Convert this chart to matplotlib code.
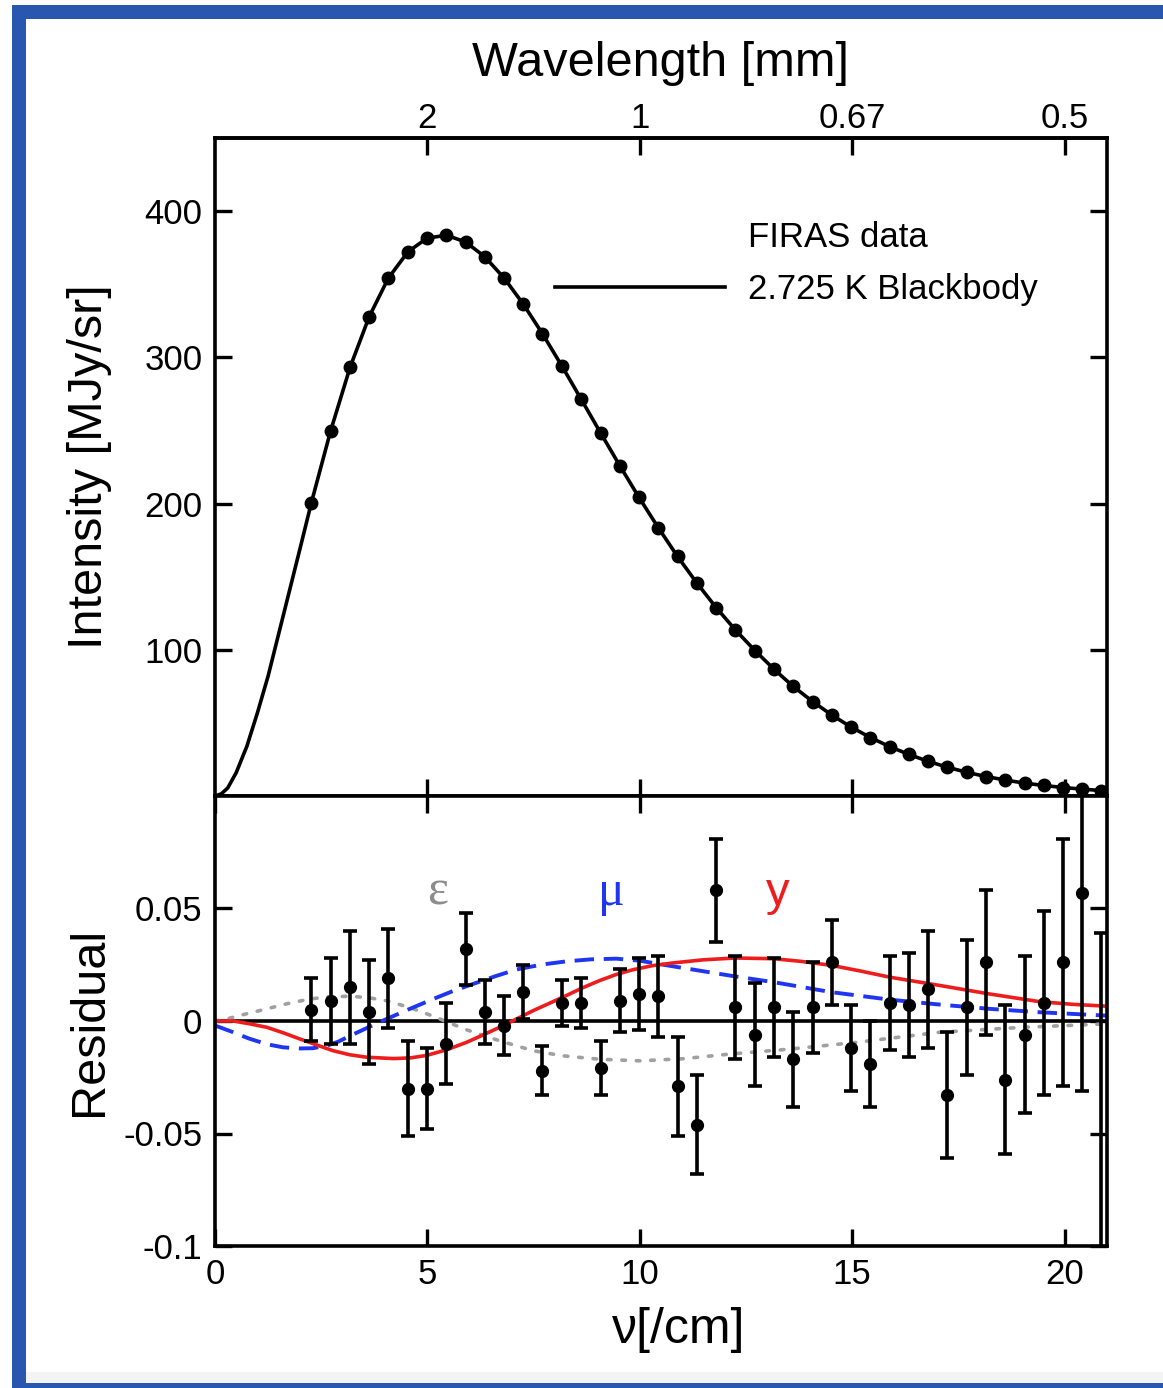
import matplotlib
matplotlib.use("Agg")
import matplotlib.pyplot as plt
from matplotlib.lines import Line2D
from matplotlib.patches import Rectangle

plt.rcParams["font.family"] = ["Liberation Sans", "DejaVu Sans"]

# FIRAS frequencies [/cm]
nu = [2.27, 2.72, 3.18, 3.63, 4.08, 4.54, 4.99, 5.45, 5.90, 6.35, 6.81, 7.26,
      7.71, 8.17, 8.62, 9.08, 9.53, 9.98, 10.44, 10.89, 11.34, 11.80, 12.25,
      12.71, 13.16, 13.61, 14.07, 14.52, 14.97, 15.43, 15.88, 16.34, 16.79,
      17.24, 17.70, 18.15, 18.61, 19.06, 19.51, 19.97, 20.42, 20.87, 21.33]
# intensity [MJy/sr]
intensity = [200.7, 249.5, 293.2, 327.8, 354.1, 372.1, 381.5, 383.5, 378.9,
             368.8, 354.1, 336.3, 316.1, 293.9, 271.4, 248.2, 225.9, 204.3,
             183.3, 163.8, 145.8, 128.8, 113.6, 99.5, 86.7, 75.0, 64.6, 55.4,
             47.2, 40.0, 33.8, 28.4, 23.7, 19.7, 16.2, 13.3, 10.9, 8.8, 7.2,
             5.8, 4.7, 3.7, 3.0]
# blackbody curve below the first data point
bb_low_nu = [0.0, 0.15, 0.3, 0.5, 0.75, 1.0, 1.25, 1.5, 1.75, 2.0]
bb_low = [0.0, 1.5, 5.5, 16.0, 34.0, 57.0, 82.0, 111.0, 140.0, 169.0]

# residuals [MJy/sr]
resid = [0.005, 0.009, 0.015, 0.004, 0.019, -0.030, -0.030, -0.010, 0.032,
         0.004, -0.002, 0.013, -0.022, 0.008, 0.008, -0.021, 0.009, 0.012,
         0.011, -0.029, -0.046, 0.058, 0.006, -0.006, 0.006, -0.017, 0.006,
         0.026, -0.012, -0.019, 0.008, 0.007, 0.014, -0.033, 0.006, 0.026,
         -0.026, -0.006, 0.008, 0.026, 0.057, -0.116, -0.432]
resid_err = [0.014, 0.019, 0.025, 0.023, 0.022, 0.021, 0.018, 0.018, 0.016,
             0.014, 0.013, 0.012, 0.011, 0.010, 0.011, 0.012, 0.014, 0.016,
             0.018, 0.022, 0.022, 0.023, 0.023, 0.023, 0.022, 0.021, 0.020,
             0.019, 0.019, 0.019, 0.021, 0.023, 0.026, 0.028, 0.030, 0.032,
             0.033, 0.035, 0.041, 0.055, 0.088, 0.155, 0.282]

# distortion shapes
y_nu = [0, 0.43, 0.8, 1.22, 1.6, 2.0, 2.4, 2.78, 3.17, 3.57, 4.2, 4.6, 4.98,
        5.45, 5.92, 6.3, 6.7, 7.1, 7.49, 7.9, 8.27, 8.66, 9.06, 9.45, 9.84,
        10.3, 10.78, 11.5, 12.25, 13.14, 13.8, 14.52, 15.2, 15.88, 17.06,
        18.24, 19.41, 20.2, 20.98]
y_curve = [0, 0.0, -0.0012, -0.0028, -0.0052, -0.008, -0.0107, -0.0132,
           -0.0150, -0.0161, -0.0167, -0.0164, -0.0153, -0.0128, -0.0095,
           -0.0063, -0.0028, 0.0009, 0.0046, 0.0081, 0.0113, 0.0148, 0.018,
           0.0207, 0.0228, 0.0246, 0.0258, 0.0272, 0.028, 0.0277, 0.0265,
           0.0247, 0.0222, 0.0195, 0.0158, 0.012, 0.0086, 0.0074, 0.0066]
mu_nu = [0, 0.43, 0.8, 1.22, 1.6, 2.0, 2.3, 2.63, 2.9, 3.18, 3.6, 4.04, 4.6,
         5.14, 5.6, 6.08, 6.6, 7.1, 7.7, 8.27, 8.85, 9.45, 10.0, 10.78,
         11.5, 12.25, 13.14, 14.52, 15.88, 17.06, 18.24, 19.41, 20.98]
mu_curve = [-0.002, -0.005, -0.0078, -0.0103, -0.0117, -0.0122, -0.0121,
            -0.011, -0.0092, -0.0066, -0.0029, 0.0009, 0.0055, 0.0098,
            0.0133, 0.0165, 0.0199, 0.0229, 0.0251, 0.0265, 0.0274, 0.0277,
            0.0268, 0.0243, 0.0221, 0.0198, 0.0173, 0.0128, 0.0095, 0.0073,
            0.0054, 0.0039, 0.0024]
eps_nu = [0, 0.27, 0.7, 1.22, 1.7, 2.24, 2.7, 3.18, 3.6, 4.04, 4.6, 5.14,
          5.92, 6.7, 7.49, 8.2, 9.06, 10.0, 11.0, 12.12, 13.53, 15.1, 17.06,
          19.02, 20.98]
eps_curve = [0, 0.0009, 0.003, 0.0054, 0.0077, 0.0098, 0.0108, 0.011, 0.0104,
             0.009, 0.0059, 0.0021, -0.0039, -0.0088, -0.0132, -0.0155,
             -0.017, -0.0177, -0.0168, -0.0147, -0.0125, -0.0095, -0.005,
             -0.0028, -0.0013]

wavelength_mm = [2.0, 1.0, 2.0 / 3.0, 0.5]
wavelength_labels = ["2", "1", "0.67", "0.5"]
intensity_ticks = [100, 200, 300, 400]
resid_ticks = [-0.1, -0.05, 0, 0.05]
resid_tick_labels = ["-0.1", "-0.05", "0", "0.05"]
nu_ticks = [0, 5, 10, 15, 20]
legend_labels = ["FIRAS data", "2.725 K Blackbody"]

W, H = 1163, 1388
fig = plt.figure(figsize=(W / 100, H / 100), dpi=100)


def px_rect(x0, y0, x1, y1, color):
    return Rectangle((x0 / W, 1 - y1 / H), (x1 - x0) / W, (y1 - y0) / H,
                     transform=fig.transFigure, facecolor=color,
                     edgecolor="none", zorder=0)


blue = "#2956ae"
fig.add_artist(px_rect(26, 1372, W, 1383, "#f4f4f4"))
fig.add_artist(px_rect(12, 5, 26, H, blue))
fig.add_artist(px_rect(12, 5, W, 19, blue))
fig.add_artist(px_rect(12, 1383, W, H, blue))

ax1 = fig.add_axes([215 / W, 1 - 796 / H, 892 / W, 658 / H])
ax2 = fig.add_axes([215 / W, 1 - 1246 / H, 892 / W, 450 / H])

tick_kw = dict(direction="in", length=12, width=2.4, labelsize=25)
lw_axis = 2.6

# top panel
ax1.plot(bb_low_nu + nu, bb_low + intensity, color="black", lw=2.6, zorder=2)
ax1.plot(nu, intensity, "o", color="black", ms=9, zorder=3)
ax1.set_xlim(0, 21)
ax1.set_ylim(0, 450)
ax1.set_yticks(intensity_ticks)
ax1.set_xticks(nu_ticks[1:])
ax1.tick_params(labelbottom=False, top=False, right=True, pad=9, **tick_kw)
for s in ax1.spines.values():
    s.set_linewidth(lw_axis)
ax1.set_ylabel("Intensity [MJy/sr]", fontsize=35)
ax1.yaxis.set_label_coords(-0.115, 0.5)

secax = ax1.secondary_xaxis("top")
secax.set_xticks([10.0 / w for w in wavelength_mm], labels=wavelength_labels)
secax.tick_params(pad=2, **tick_kw)
secax.spines["top"].set_linewidth(lw_axis)
secax.set_xlabel("Wavelength [mm]", fontsize=35, labelpad=19)

handles = [Line2D([], [], ls="none"),
           Line2D([], [], color="black", lw=2.6)]
ax1.legend(handles, legend_labels, loc="upper left",
           bbox_to_anchor=(0.381, 0.874), frameon=False, fontsize=25,
           handlelength=4.9, handletextpad=0.66, labelspacing=0.55,
           borderpad=0, borderaxespad=0)

# bottom panel
ax2.axhline(0, color="black", lw=2.6, zorder=1)
ax2.plot(eps_nu, eps_curve, color="#a0a0a0", lw=2.6, ls=(0, (1, 3)),
         dash_capstyle="round", zorder=2)
ax2.plot(mu_nu, mu_curve, color="#1f35f0", lw=2.8, ls=(0, (5, 2.5)), zorder=2)
ax2.plot(y_nu, y_curve, color="#ee1c1c", lw=2.6, zorder=2)
ax2.errorbar(nu, resid, yerr=resid_err, fmt="o", color="black", ms=8.5,
             elinewidth=2.6, capsize=4.8, capthick=2.6, zorder=4)

ax2.text(5.25, 0.057, "ε", color="#8c8c8c", fontsize=36,
         family=["Liberation Serif", "DejaVu Serif"], ha="center", va="center")
ax2.text(9.34, 0.057, "μ", color="#1f35f0", fontsize=36,
         family=["Liberation Serif", "DejaVu Serif"], ha="center", va="center")
ax2.text(13.25, 0.057, "y", color="#ee1c1c", fontsize=34,
         ha="center", va="center")

ax2.set_xlim(0, 21)
ax2.set_ylim(-0.1, 0.1)
ax2.set_xticks(nu_ticks)
ax2.set_yticks(resid_ticks, labels=resid_tick_labels)
ax2.tick_params(top=True, right=True, pad=9, **tick_kw)
for s in ax2.spines.values():
    s.set_linewidth(lw_axis)
ax2.set_ylabel("Residual", fontsize=35)
ax2.yaxis.set_label_coords(-0.115, 0.5)
ax2.set_xlabel("ν[/cm]", fontsize=36)
ax2.xaxis.set_label_coords(0.52, -0.135)

fig.savefig("out.png", dpi=100)
